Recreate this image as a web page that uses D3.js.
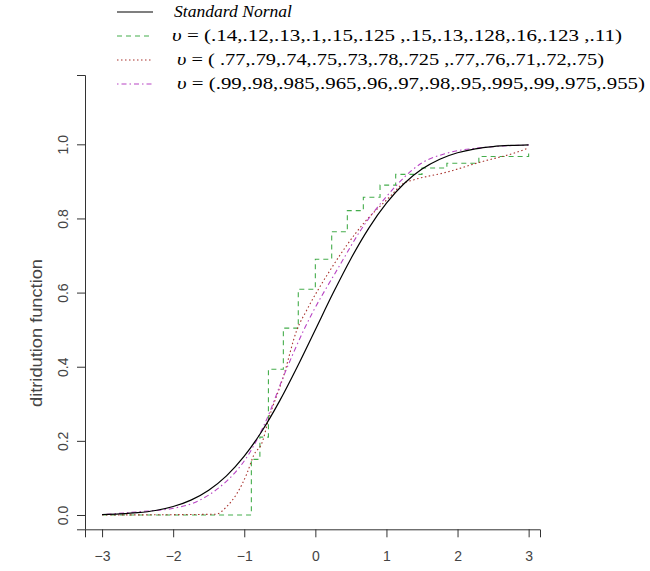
<!DOCTYPE html>
<html>
<head>
<meta charset="utf-8">
<script src="https://cdn.jsdelivr.net/npm/d3@7"></script>
<style>
  body { margin: 0; background: #fff; }
  svg { display: block; }
</style>
</head>
<body>
<div id="chart"></div>
<script>
'use strict'

// standard normal curve
var normX = [-3, -2.75, -2.5, -2.25, -2, -1.75, -1.5, -1.25, -1, -0.75, -0.5, -0.25, 0,
             0.25, 0.5, 0.75, 1, 1.25, 1.5, 1.75, 2, 2.25, 2.5, 2.75, 3];
var normY = [0.0013, 0.003, 0.0062, 0.0122, 0.0228, 0.0401, 0.0668, 0.1056, 0.1587, 0.2266, 0.3085, 0.4013, 0.5,
             0.5987, 0.6915, 0.7734, 0.8413, 0.8944, 0.9332, 0.9599, 0.9772, 0.9878, 0.9938, 0.997, 0.9987];

// green dashed step curve (knots, step after)
var greenX = [-3, -0.9, -0.78, -0.66, -0.45, -0.24, 0.0, 0.23, 0.45, 0.675, 0.91, 1.13, 1.5, 1.85, 2.3, 3.0];
var greenY = [0, 0.15, 0.21, 0.393, 0.504, 0.609, 0.69, 0.764, 0.821, 0.857, 0.89, 0.919, 0.936, 0.949, 0.967, 0.976];

// red dotted curve
var redX = [-3, -1.4, -1.25, -1.1, -0.96, -0.87, -0.74, -0.67, -0.45, -0.26, -0.12, 0.21, 0.68, 1.05, 1.24, 1.38, 1.85, 2.32, 2.79, 3.0];
var redY = [0, 0.002, 0.022, 0.059, 0.113, 0.16, 0.2, 0.25, 0.373, 0.499, 0.553, 0.661, 0.787, 0.859, 0.895, 0.904, 0.925, 0.952, 0.976, 0.99];

// purple dot-dash curve
var purpleX = [-3, -2.47, -2.0, -1.67, -1.34, -1.1, -0.96, -0.68, -0.45, -0.16, 0.36, 0.64, 1.0, 1.5, 1.85, 2.4, 3.0];
var purpleY = [0.001, 0.009, 0.018, 0.036, 0.076, 0.121, 0.157, 0.26, 0.373, 0.5, 0.679, 0.769, 0.859, 0.95, 0.976, 0.992, 0.998];

var xTicks = [-3, -2, -1, 0, 1, 2, 3];
var yTicks = [0, 0.2, 0.4, 0.6, 0.8, 1.0];

var legendLabels = [
    "Standard Nornal",
    " = (.14,.12,.13,.1,.15,.125 ,.15,.13,.128,.16,.123 ,.11)",
    " = ( .77,.79,.74,.75,.73,.78,.725 ,.77,.76,.71,.72,.75)",
    " = (.99,.98,.985,.965,.96,.97,.98,.95,.995,.99,.975,.955)"
];
var legendColors = ["#000000", "#45ad4c", "#a8322d", "#b844c4"];
var legendDash = [null, "5,4", "1.5,2.5", "1.5,3,5,3"];

var width = 650, height = 571;

var svg = d3.select("#chart").append("svg")
    .attr("width", width)
    .attr("height", height);

var x = d3.scaleLinear().domain([-3.24, 3.16]).range([85, 540]);
var y = d3.scaleLinear().domain([-0.0386, 1.187]).range([529.3, 75]);

// axes
var xAxis = svg.append("g")
    .attr("transform", "translate(0,529.3)")
    .call(d3.axisBottom(x).tickValues(xTicks).tickSizeOuter(0).tickSize(8).tickPadding(14)
        .tickFormat(d3.format("d")));

var yAxis = svg.append("g")
    .attr("transform", "translate(85,0)")
    .call(d3.axisLeft(y).tickValues(yTicks).tickSizeOuter(0).tickSize(8)
        .tickFormat(d3.format(".1f")));

[xAxis, yAxis].forEach(function (g) {
    g.selectAll("path, line").attr("stroke", "#333").attr("stroke-width", 1);
    g.selectAll("text")
        .attr("fill", "#444")
        .style("font-family", "Liberation Sans, Arial, sans-serif")
        .style("font-size", "14px");
});

yAxis.selectAll("text")
    .attr("transform", "rotate(-90)")
    .attr("x", 0)
    .attr("y", -17)
    .attr("dy", 0)
    .attr("text-anchor", "middle");

svg.append("text")
    .attr("transform", "translate(42,333) rotate(-90)")
    .attr("text-anchor", "middle")
    .attr("fill", "#444")
    .style("font-family", "Liberation Sans, Arial, sans-serif")
    .style("font-size", "16px")
    .attr("textLength", 148)
    .attr("lengthAdjust", "spacingAndGlyphs")
    .text("ditridution function");

// curves
function pts(xs, ys) {
    return xs.map(function (d, i) { return [d, ys[i]]; });
}

var smooth = d3.line()
    .x(function (d) { return x(d[0]); })
    .y(function (d) { return y(d[1]); })
    .curve(d3.curveMonotoneX);

var steps = d3.line()
    .x(function (d) { return x(d[0]); })
    .y(function (d) { return y(d[1]); })
    .curve(d3.curveStepAfter);

var plot = svg.append("g").attr("fill", "none");

plot.append("path")
    .attr("d", steps(pts(greenX, greenY)))
    .attr("stroke", legendColors[1])
    .attr("stroke-width", 1.1)
    .attr("stroke-dasharray", legendDash[1]);

plot.append("path")
    .attr("d", smooth(pts(redX, redY)))
    .attr("stroke", legendColors[2])
    .attr("stroke-width", 1.1)
    .attr("stroke-dasharray", legendDash[2]);

plot.append("path")
    .attr("d", smooth(pts(purpleX, purpleY)))
    .attr("stroke", legendColors[3])
    .attr("stroke-width", 1.1)
    .attr("stroke-dasharray", legendDash[3]);

plot.append("path")
    .attr("d", smooth(pts(normX, normY)))
    .attr("stroke", legendColors[0])
    .attr("stroke-width", 1.2);

// legend
var rowY = [12, 36, 60, 84];
var textX = [174, 172, 177, 177];
var textW = [118, 450, 427, 468];

var legend = svg.append("g");

legendLabels.forEach(function (lab, i) {
    legend.append("line")
        .attr("x1", 117).attr("x2", 153)
        .attr("y1", rowY[i]).attr("y2", rowY[i])
        .attr("stroke", legendColors[i])
        .attr("stroke-width", 1.1)
        .attr("stroke-dasharray", legendDash[i]);

    var t = legend.append("text")
        .attr("x", textX[i])
        .attr("y", rowY[i] + 5)
        .attr("textLength", textW[i])
        .attr("lengthAdjust", "spacingAndGlyphs")
        .attr("fill", "#000")
        .style("font-family", "Liberation Serif, DejaVu Serif, serif")
        .style("font-size", "17px");

    if (i === 0) {
        t.style("font-style", "italic").text(lab);
    } else {
        t.append("tspan").style("font-style", "italic").text("\u03c5");
        t.append("tspan").text(lab);
    }
});
</script>
</body>
</html>
